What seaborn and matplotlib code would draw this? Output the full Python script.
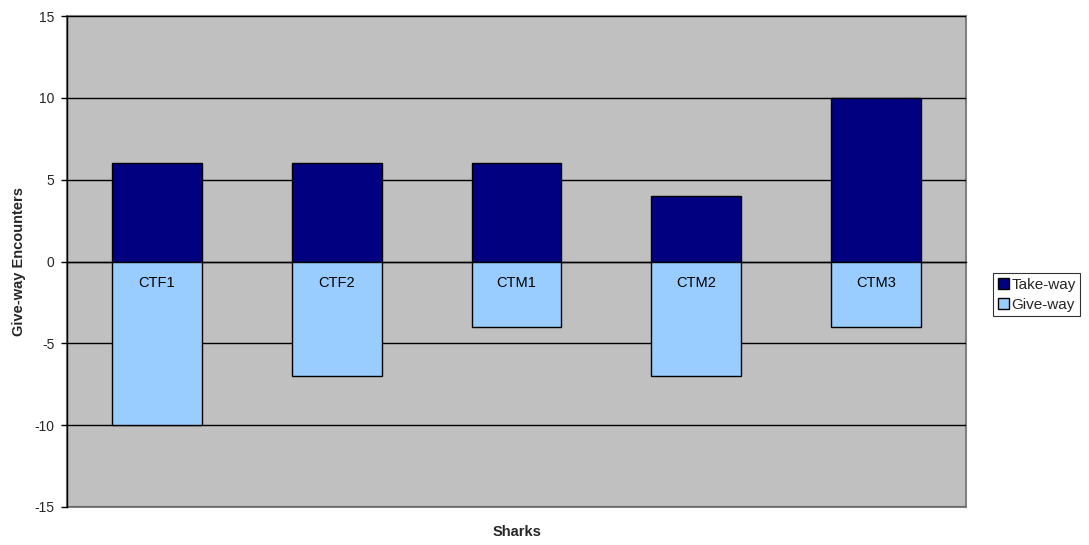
import matplotlib
matplotlib.use("Agg")
import matplotlib.pyplot as plt
import seaborn as sns
import pandas as pd
from matplotlib.patches import Rectangle

# Encounter counts per shark
sharks = ["CTF1", "CTF2", "CTM1", "CTM2", "CTM3"]
take_way = [6, 6, 6, 4, 10]
give_way = [10, 7, 4, 7, 4]
y_ticks = [-15, -10, -5, 0, 5, 10, 15]

series_names = ["Take-way", "Give-way"]
series_colors = {"Take-way": "#000080", "Give-way": "#99CCFF"}

df = pd.DataFrame({
    "shark": sharks * 2,
    "count": take_way + [-v for v in give_way],
    "type": ["Take-way"] * len(sharks) + ["Give-way"] * len(sharks),
})

sns.set_theme(style="white")
plt.rcParams["font.family"] = ["Liberation Sans", "DejaVu Sans"]

fig = plt.figure(figsize=(10.89, 5.45), dpi=100)
ax = fig.add_axes([67 / 1089, 38 / 545, (966 - 67) / 1089, (507 - 16) / 545])
ax.set_facecolor("#C0C0C0")

sns.barplot(data=df, x="shark", y="count", hue="type", hue_order=series_names,
            palette=series_colors, dodge=False, width=0.5, edgecolor="black",
            linewidth=1, saturation=1, ax=ax, zorder=3)

ax.set_ylim(-15, 15)
ax.set_xlim(-0.5, len(sharks) - 0.5)
ax.set_yticks(y_ticks)
ax.set_yticklabels([str(v) for v in y_ticks], fontsize=10)
ax.yaxis.grid(True, color="black", linewidth=1, zorder=1)
ax.set_axisbelow(True)

# category axis sits on the zero line, with boundary ticks pointing up
ax.spines["bottom"].set_position(("data", 0))
ax.spines["bottom"].set_color("black")
ax.spines["bottom"].set_linewidth(1)
ax.set_xticks([i - 0.5 for i in range(len(sharks) + 1)])
ax.set_xticklabels([])
ax.tick_params(axis="x", direction="in", length=4, width=1, color="black")
ax.tick_params(axis="y", direction="out", length=4, width=1, color="black",
               left=True, pad=5)
for side in ["top", "right"]:
    ax.spines[side].set_visible(False)
ax.spines["left"].set_color("black")
ax.spines["left"].set_linewidth(1)

# grey plot-area border
ax.add_patch(Rectangle((0, 0), 1, 1, transform=ax.transAxes, fill=False,
                       edgecolor="#808080", linewidth=1.5, zorder=0.5,
                       clip_on=False))

for i, name in enumerate(sharks):
    ax.annotate(name, (i, 0), xytext=(0, -15.5), textcoords="offset points",
                ha="center", va="center", fontsize=10.5, color="black", zorder=5)

ax.set_xlabel("")
ax.set_ylabel("")
fig.text(517 / 1089, 1 - 532 / 545, "Sharks", ha="center", va="center",
         fontsize=10.5, fontweight="bold")
fig.text(19 / 1089, 1 - 261 / 545, "Give-way Encounters", ha="center",
         va="center", rotation=90, fontsize=10.5, fontweight="bold")

handles, labels = ax.get_legend_handles_labels()
ax.get_legend().remove()
leg = fig.legend(handles, labels, loc="upper left",
                 bbox_to_anchor=(993 / 1089, 1 - 273 / 545),
                 bbox_transform=fig.transFigure, fontsize=11, frameon=True,
                 fancybox=False, shadow=False, borderpad=0.3,
                 handlelength=0.75, handleheight=0.75, handletextpad=0.15,
                 labelspacing=0.4, borderaxespad=0)
leg.get_frame().set_edgecolor("black")
leg.get_frame().set_linewidth(0.8)

fig.savefig("out.png", dpi=100, facecolor="white")
